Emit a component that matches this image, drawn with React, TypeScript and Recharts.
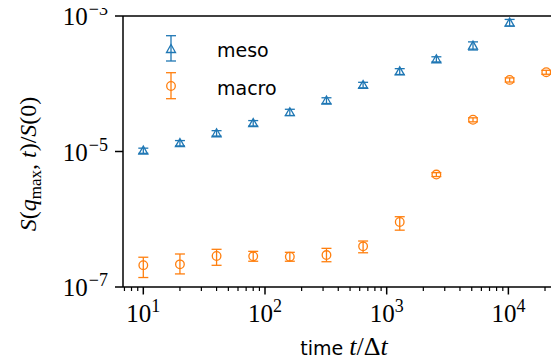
import {
  ScatterChart,
  Scatter,
  XAxis,
  YAxis,
  ErrorBar,
  ReferenceLine,
  Legend,
  Label,
} from "recharts";

const BLUE = "#1f77b4";
const ORANGE = "#ff7f0e";
const SERIF = "'Liberation Serif', 'DejaVu Serif', serif";
const SANS = "'DejaVu Sans', sans-serif";

// lag times t/Δt
const mesoTimes = [10, 20, 40, 80, 160, 320, 640, 1280, 2560, 5120, 10240];
const macroTimes = [10, 20, 40, 80, 160, 320, 640, 1280, 2560, 5120, 10240, 20480];

// S(q_max, t)/S(0)
const mesoValues = [1.03e-5, 1.33e-5, 1.86e-5, 2.62e-5, 3.8e-5, 5.66e-5, 9.6e-5, 1.52e-4, 2.3e-4, 3.65e-4, 8.0e-4];
const mesoErrLow = [0.09e-5, 0.12e-5, 0.17e-5, 0.24e-5, 0.4e-5, 0.55e-5, 0.9e-5, 0.15e-4, 0.2e-4, 0.5e-4, 0.9e-4];
const mesoErrHigh = [0.09e-5, 0.12e-5, 0.17e-5, 0.24e-5, 0.4e-5, 0.55e-5, 0.9e-5, 0.15e-4, 0.2e-4, 0.5e-4, 0.9e-4];

const macroValues = [2.1e-7, 2.16e-7, 2.87e-7, 2.84e-7, 2.8e-7, 2.96e-7, 3.98e-7, 9.1e-7, 4.57e-6, 2.94e-5, 1.14e-4, 1.48e-4];
const macroErrLow = [0.72e-7, 0.6e-7, 0.78e-7, 0.44e-7, 0.4e-7, 0.6e-7, 0.78e-7, 2.2e-7, 0.3e-6, 0.2e-5, 0.08e-4, 0.1e-4];
const macroErrHigh = [0.65e-7, 0.91e-7, 0.73e-7, 0.52e-7, 0.45e-7, 0.76e-7, 0.79e-7, 1.8e-7, 0.3e-6, 0.2e-5, 0.08e-4, 0.1e-4];

// axis ticks
const xMajorTicks = [10, 100, 1000, 10000];
const xMinorTicks = [7, 8, 9, 20, 30, 40, 50, 60, 70, 80, 90, 200, 300, 400, 500, 600, 700, 800, 900, 2000, 3000, 4000, 5000, 6000, 7000, 8000, 9000, 20000];
const yTicks = [1e-7, 1e-5, 1e-3];

const meso = mesoTimes.map((t, i) => ({ t, v: mesoValues[i], err: [mesoErrLow[i], mesoErrHigh[i]] }));
const macro = macroTimes.map((t, i) => ({ t, v: macroValues[i], err: [macroErrLow[i], macroErrHigh[i]] }));

const Triangle = (props: any) => {
  const { cx, cy } = props;
  if (cx == null || cy == null) return null;
  return (
    <polygon
      points={`${cx},${cy - 4.5} ${cx - 4.5},${cy + 3.5} ${cx + 4.5},${cy + 3.5}`}
      fill="none"
      stroke={BLUE}
      strokeWidth={1.3}
    />
  );
};

const Circle = (props: any) => {
  const { cx, cy } = props;
  if (cx == null || cy == null) return null;
  return <circle cx={cx} cy={cy} r={4.3} fill="none" stroke={ORANGE} strokeWidth={1.3} />;
};

const XTick = (props: any) => {
  const { x, y, payload } = props;
  const major = xMajorTicks.includes(payload.value);
  const exp = Math.round(Math.log10(payload.value));
  return (
    <g>
      <line x1={x} x2={x} y1={y} y2={y + (major ? 7.5 : 4)} stroke="#000" strokeWidth={major ? 1.5 : 1.2} />
      {major && (
        <text x={x} y={y + 35} textAnchor="middle" fontFamily={SERIF} fontSize={25} fill="#000">
          10
          <tspan dy={-10} fontSize={18}>{exp}</tspan>
        </text>
      )}
    </g>
  );
};

const YTick = (props: any) => {
  const { x, y, payload } = props;
  const exp = Math.round(Math.log10(payload.value));
  return (
    <g>
      <line x1={x - 8} x2={x} y1={y} y2={y} stroke="#000" strokeWidth={1.5} />
      <text x={x - 15} y={y + 9} textAnchor="end" fontFamily={SERIF} fontSize={25} fill="#000">
        10
        <tspan dx={1} dy={-10} fontSize={18}>{`\u2212${Math.abs(exp)}`}</tspan>
      </text>
    </g>
  );
};

const LegendBox = () => (
  <svg width={130} height={85}>
    <g stroke={BLUE} strokeWidth={1.3} fill="none">
      <line x1={11} x2={11} y1={5.7} y2={31} />
      <line x1={6} x2={16} y1={5.7} y2={5.7} />
      <line x1={6} x2={16} y1={31} y2={31} />
      <polygon points="11,14.5 6.5,22.5 15.5,22.5" />
    </g>
    <text x={57} y={27} fontFamily={SANS} fontSize={19} fill="#000">meso</text>
    <g stroke={ORANGE} strokeWidth={1.3} fill="none">
      <line x1={11} x2={11} y1={42.7} y2={68.7} />
      <line x1={6} x2={16} y1={42.7} y2={42.7} />
      <line x1={6} x2={16} y1={68.7} y2={68.7} />
      <circle cx={11} cy={56} r={4.3} />
    </g>
    <text x={57} y={65} fontFamily={SANS} fontSize={19} fill="#000">macro</text>
  </svg>
);

const YLabel = () => (
  <text
    x={36}
    y={164}
    transform="rotate(-90, 36, 164)"
    textAnchor="middle"
    fontFamily={SERIF}
    fontSize={24}
    fill="#000"
  >
    <tspan fontStyle="italic">S</tspan>(<tspan fontStyle="italic">q</tspan>
    <tspan fontSize={17} dy={5}>max</tspan>
    <tspan dy={-5}>, </tspan>
    <tspan fontStyle="italic">t</tspan>)/<tspan fontStyle="italic">S</tspan>(0)
  </text>
);

const XLabel = () => (
  <text x={344} y={355} textAnchor="middle" fill="#000">
    <tspan fontFamily={SANS} fontSize={19}>time </tspan>
    <tspan fontFamily={SERIF} fontSize={26} fontStyle="italic">t</tspan>
    <tspan fontFamily={SERIF} fontSize={26}>/Δ</tspan>
    <tspan fontFamily={SERIF} fontSize={26} fontStyle="italic">t</tspan>
  </text>
);

export default function App() {
  return (
    <div style={{ width: 559, height: 362, overflow: "hidden", margin: "-8px 0 0 -8px" }}>
      <ScatterChart width={559} height={362} margin={{ top: 16, right: 0, bottom: 0, left: 0 }}>
        <XAxis
          type="number"
          dataKey="t"
          scale="log"
          domain={[6.81, 26060]}
          allowDataOverflow
          ticks={[...xMajorTicks, ...xMinorTicks].sort((a, b) => a - b)}
          interval={0}
          tickLine={false}
          tickSize={0}
          tickMargin={0}
          tick={<XTick />}
          axisLine={{ stroke: "#000", strokeWidth: 1.5 }}
          height={75}
        >
          <Label content={<XLabel />} />
        </XAxis>
        <YAxis
          type="number"
          dataKey="v"
          scale="log"
          domain={[1e-7, 1e-3]}
          allowDataOverflow
          ticks={yTicks}
          interval={0}
          tickLine={false}
          tickSize={0}
          tickMargin={0}
          tick={<YTick />}
          axisLine={{ stroke: "#000", strokeWidth: 1.5 }}
          width={123}
        >
          <Label content={<YLabel />} />
        </YAxis>
        <ReferenceLine y={1e-3} stroke="#000" strokeWidth={1.5} />
        <Legend
          layout="horizontal"
          verticalAlign="middle"
          align="center"
          wrapperStyle={{ position: "absolute", left: 160, top: 30, width: 130, height: 85 }}
          content={<LegendBox />}
        />
        <Scatter name="meso" data={meso} shape={<Triangle />} isAnimationActive={false}>
          <ErrorBar dataKey="err" direction="y" width={5} stroke={BLUE} strokeWidth={1.3} isAnimationActive={false} />
        </Scatter>
        <Scatter name="macro" data={macro} shape={<Circle />} isAnimationActive={false}>
          <ErrorBar dataKey="err" direction="y" width={5} stroke={ORANGE} strokeWidth={1.3} isAnimationActive={false} />
        </Scatter>
      </ScatterChart>
    </div>
  );
}
